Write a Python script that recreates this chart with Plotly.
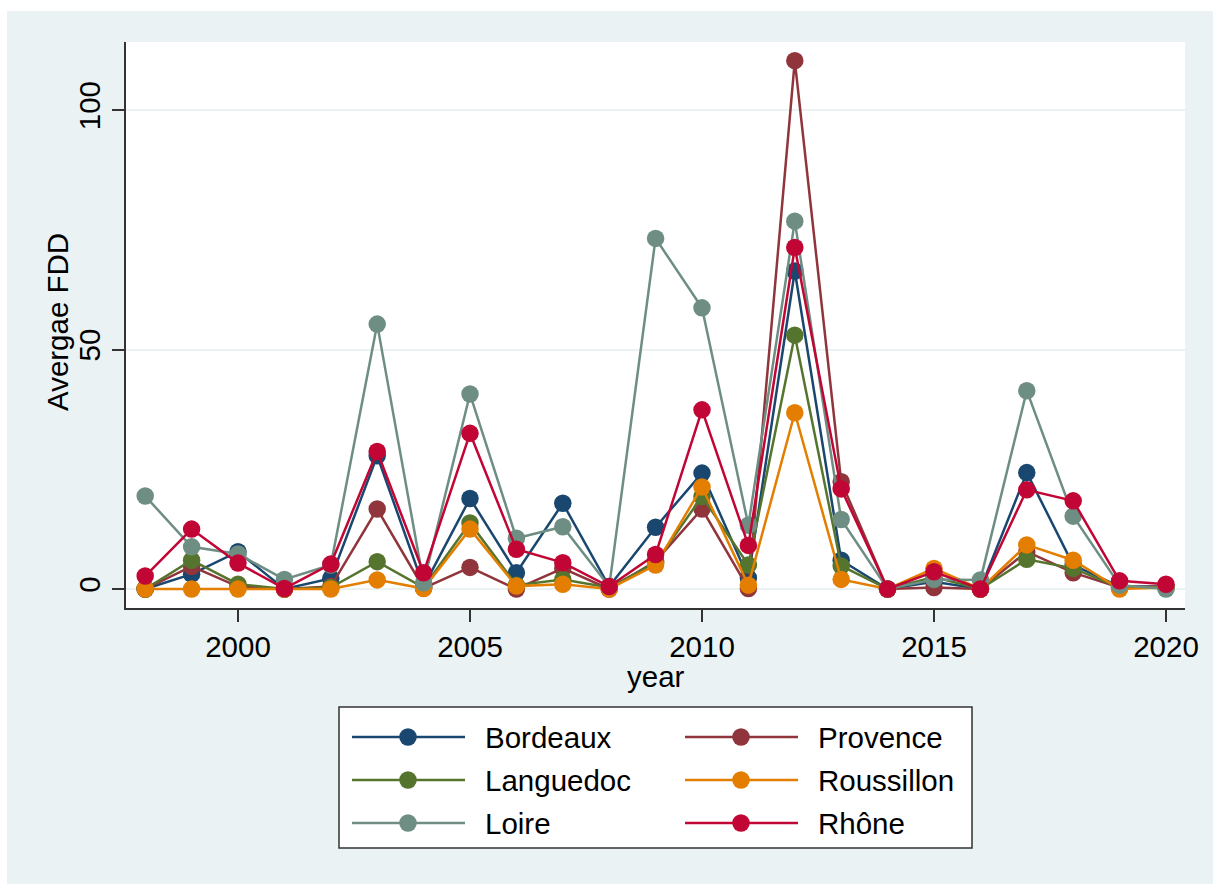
import plotly.graph_objects as go

# Average FDD per wine region, 1998-2020
years = list(range(1998, 2021))

bordeaux = [0.0, 3.1, 7.8, 0.0, 2.2, 27.8, 0.5, 18.9, 3.4, 17.9, 0.5, 12.9,
            24.2, 2.3, 66.4, 6.0, 0.0, 1.5, 0.0, 24.3, 5.0, 0.5, 0.5]
provence = [0.0, 4.7, 0.5, 0.0, 0.5, 16.7, 0.2, 4.5, 0.0, 4.3, 0.0, 5.8,
            16.7, 0.1, 110.3, 22.4, 0.0, 0.3, 0.0, 7.8, 3.4, 0.3, 0.5]
languedoc = [0.0, 6.0, 1.0, 0.0, 0.3, 5.7, 0.3, 13.8, 0.8, 2.0, 0.3, 5.5,
             19.3, 5.0, 53.0, 4.8, 0.0, 2.5, 0.0, 6.2, 4.3, 0.3, 0.3]
roussillon = [0.0, 0.0, 0.0, 0.0, 0.0, 1.9, 0.1, 12.5, 0.6, 1.0, 0.0, 5.0,
              21.3, 0.8, 36.8, 2.0, 0.0, 4.3, 0.0, 9.2, 6.0, 0.0, 0.3]
loire = [19.4, 8.8, 7.3, 2.0, 5.0, 55.3, 1.3, 40.7, 10.6, 13.0, 0.5, 73.2,
         58.7, 13.3, 76.8, 14.5, 0.0, 2.0, 1.9, 41.4, 15.2, 0.8, 0.0]
rhone = [2.7, 12.5, 5.4, 0.1, 5.2, 28.7, 3.4, 32.5, 8.3, 5.5, 0.5, 7.2,
         37.4, 9.1, 71.3, 20.9, 0.0, 3.6, 0.0, 20.7, 18.4, 1.7, 1.0]

regions = ["Bordeaux", "Provence", "Languedoc", "Roussillon", "Loire", "Rhône"]
values = [bordeaux, provence, languedoc, roussillon, loire, rhone]
colors = ["#1a476f", "#90353b", "#55752f", "#e37e00", "#6e8e84", "#c10534"]

x_ticks = [2000, 2005, 2010, 2015, 2020]
y_ticks = [0, 50, 100]

FONT = "Liberation Sans, Arial, sans-serif"
FS = 29.5
BG = "#eaf2f3"
W, H = 1213, 884
ML, MR, MT, MB = 126, 28, 42, 276
PW, PH = W - ML - MR, H - MT - MB

fig = go.Figure()
for name, vals, col in zip(regions, values, colors):
    fig.add_trace(go.Scatter(
        x=years, y=vals, name=name, mode="lines+markers",
        line=dict(color=col, width=2.5),
        marker=dict(color=col, size=17.5, line=dict(width=0)),
        showlegend=False,
    ))


def px_x(p):
    return (p - ML) / PW


def px_y(p):
    return (H - MB - p) / PH


shapes = []
annotations = []

# white strip along the top and left edges of the page
shapes.append(dict(type="rect", xref="paper", yref="paper", layer="below",
                   x0=px_x(0), x1=px_x(W), y0=px_y(0), y1=px_y(11),
                   fillcolor="white", line=dict(width=0)))
shapes.append(dict(type="rect", xref="paper", yref="paper", layer="below",
                   x0=px_x(0), x1=px_x(7), y0=px_y(0), y1=px_y(H),
                   fillcolor="white", line=dict(width=0)))

# legend box with two columns of entries
shapes.append(dict(type="rect", xref="paper", yref="paper",
                   x0=px_x(339), x1=px_x(972), y0=px_y(848), y1=px_y(707),
                   fillcolor="white", line=dict(color="#333333", width=1.5)))
col_marker = [408, 741]
row_y = [737, 780, 823]
r = 8.75
for i, (name, col) in enumerate(zip(regions, colors)):
    c, rw = i % 2, i // 2
    mx, my = col_marker[c], row_y[rw]
    shapes.append(dict(type="line", xref="paper", yref="paper",
                       x0=px_x(mx - 56), x1=px_x(mx + 57), y0=px_y(my), y1=px_y(my),
                       line=dict(color=col, width=2.5)))
    shapes.append(dict(type="circle", xref="paper", yref="paper",
                       x0=px_x(mx - r), x1=px_x(mx + r),
                       y0=px_y(my + r), y1=px_y(my - r),
                       fillcolor=col, line=dict(width=0)))
    annotations.append(dict(xref="paper", yref="paper", x=px_x(mx + 75), y=px_y(my),
                            text=name, showarrow=False, xanchor="left", yanchor="middle",
                            font=dict(family=FONT, size=FS, color="black")))

# axis titles
annotations.append(dict(xref="paper", yref="paper", x=px_x(57), y=px_y(322),
                        text="Avergae FDD", showarrow=False, textangle=-90,
                        xanchor="center", yanchor="middle",
                        font=dict(family=FONT, size=FS, color="black")))
annotations.append(dict(xref="paper", yref="paper", x=px_x(656), y=px_y(676),
                        text="year", showarrow=False,
                        xanchor="center", yanchor="middle",
                        font=dict(family=FONT, size=FS, color="black")))

fig.update_layout(
    width=W, height=H,
    margin=dict(l=ML, r=MR, t=MT, b=MB, pad=0),
    paper_bgcolor=BG, plot_bgcolor="white",
    font=dict(family=FONT, size=FS, color="black"),
    shapes=shapes, annotations=annotations,
    showlegend=False,
)
fig.update_xaxes(
    range=[1997.586, 2020.41], tickvals=x_ticks,
    showgrid=False, zeroline=False,
    showline=True, linecolor="#333333", linewidth=1.5,
    ticks="outside", ticklen=12, tickwidth=1.5, tickcolor="#333333",
    tickfont=dict(size=FS),
)
fig.update_yaxes(
    range=[-3.97, 114.2], tickvals=y_ticks, tickangle=-90,
    showgrid=True, gridcolor=BG, gridwidth=1.5, zeroline=False,
    showline=True, linecolor="#333333", linewidth=1.5,
    ticks="outside", ticklen=12, tickwidth=1.5, tickcolor="#333333",
    tickfont=dict(size=FS),
)

fig.write_html("out.html")
